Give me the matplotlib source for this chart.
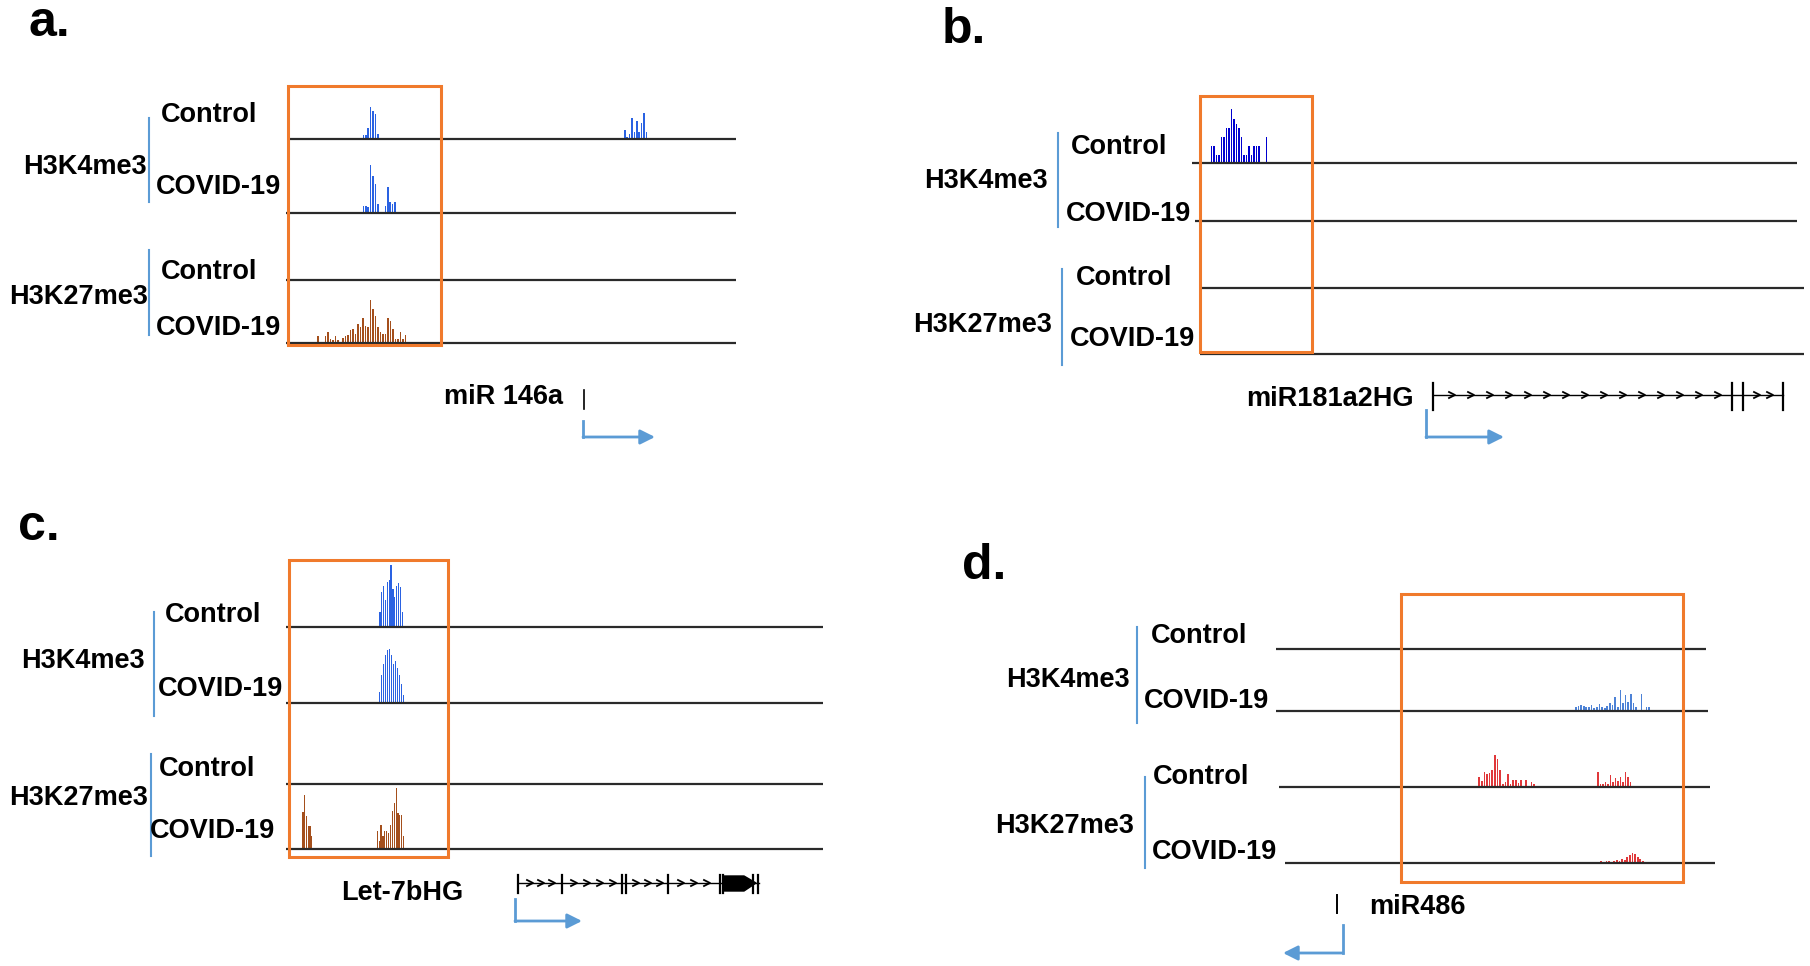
import numpy as np
import matplotlib
matplotlib.use("Agg")
import matplotlib.pyplot as plt
from matplotlib.patches import Rectangle, Polygon

# ---- peak heights (pixels above the track baseline)
a_ctrl_k4_p1 = [4, 4, 11, 32, 28, 25, 5]
a_ctrl_k4_p2 = [9, 2, 5, 21, 7, 18, 7, 16, 26, 7]
a_cov_k4_p1 = [7, 7, 6, 48, 37, 29, 9]
a_cov_k4_p2 = [7, 26, 11, 9, 11]
a_cov_k27 = [7, 1, 1, 7, 11, 4, 3, 7, 3, 1, 5, 7, 8, 13, 14, 9, 19, 16, 25, 17, 16,
             43, 34, 27, 16, 11, 9, 9, 25, 22, 14, 4, 4, 11, 4, 8]

b_ctrl_k4 = [17, 17, 8, 8, 26, 26, 35, 35, 54, 44, 39, 35, 26, 8, 8, 17, 8, 17, 17, 17, 0, 0, 26]

c_ctrl_k4 = [15, 35, 41, 27, 45, 47, 62, 38, 30, 41, 44, 40, 15]
c_cov_k4 = [11, 28, 39, 48, 53, 54, 48, 39, 42, 35, 28, 19, 8]
c_cov_k27_p1 = [37, 54, 33, 23, 23, 13]
c_cov_k27_p2 = [18, 8, 24, 13, 18, 18, 16, 24, 38, 46, 61, 36, 34, 34, 13]

d_cov_k4 = [4, 5, 6, 5, 4, 4, 6, 3, 4, 7, 4, 3, 5, 8, 6, 14, 4, 21, 8, 16, 9, 17, 8, 4, 1, 17, 1, 4, 4]
d_ctrl_k27_p1 = [10, 6, 15, 13, 14, 17, 32, 28, 17, 3, 5, 13, 3, 7, 7, 4, 7, 1, 7, 1, 5, 3]
d_ctrl_k27_p2 = [15, 3, 3, 5, 3, 12, 5, 9, 6, 10, 5, 15, 10, 5]
d_cov_k27 = [1, 1, 1, 1, 1, 1, 1, 1, 1, 2, 1, 2, 2, 1, 2, 3, 2, 4, 3, 6, 8, 10, 9, 6, 4, 2, 1, 1]

marks = ["H3K4me3", "H3K27me3"]
groups = ["Control", "COVID-19"]
panel_names = ["a.", "b.", "c.", "d."]
genes = ["miR 146a", "miR181a2HG", "Let-7bHG", "miR486"]

BLUE = "#2a62e2"
DBLUE = "#0000cf"
LBLUE = "#4d82d6"
BROWN = "#a44f1c"
RED = "#e0383a"
ORANGE = "#f07a2c"
BRACE = "#5b9bd5"
LINE = "#2a2a2a"
FONT = "Liberation Sans"
FS = 19.5

fig = plt.figure(figsize=(18.1, 9.66), dpi=100)
ax = fig.add_axes([0, 0, 1, 1])
ax.set_xlim(0, 1810)
ax.set_ylim(966, 0)
ax.axis("off")


def track(y, x0, x1):
    ax.plot([x0, x1], [y, y], color=LINE, lw=1.6, solid_capstyle="butt")


def peak(x0, base, heights, color, pitch=2.4, width=1.6):
    h = np.array(heights, dtype=float)
    xs = x0 + pitch * np.arange(len(h))
    ax.bar(xs, -h, bottom=base, width=width, color=color, align="edge", linewidth=0)


def label(x, y, s):
    ax.text(x, y, s, fontsize=FS, fontweight="bold", family=FONT, ha="left", va="center")


def mark_label(x_right, y, s):
    ax.text(x_right, y, s, fontsize=FS, fontweight="bold", family=FONT, ha="right", va="center")


def panel_letter(x, y, s):
    ax.text(x, y, s, fontsize=36, fontweight="bold", family=FONT, ha="left", va="baseline")


def brace(x, y0, y1):
    ax.plot([x, x], [y0, y1], color=BRACE, lw=1.5)


def box(x0, y0, x1, y1):
    ax.add_patch(Rectangle((x0, y0), x1 - x0, y1 - y0, fill=False, ec=ORANGE, lw=2.2, zorder=5))


def tss_arrow(x, y0, y1, x_end):
    ax.plot([x, x], [y0, y1], color=BRACE, lw=2)
    ax.annotate("", xy=(x_end, y1), xytext=(x, y1),
                arrowprops=dict(arrowstyle="-|>", color=BRACE, lw=2,
                                mutation_scale=22, shrinkA=0, shrinkB=0))


def chevrons(xs, y):
    for x in xs:
        ax.plot([x - 3, x + 3, x - 3], [y - 3, y, y + 3], color="black", lw=1.3)


def vtick(x, y0, y1, lw=1.6):
    ax.plot([x, x], [y0, y1], color="black", lw=lw)


# ================= panel a =================
panel_letter(28, 36, panel_names[0])
track(139, 290, 736)
track(213, 286, 736)
track(280, 286, 736)
track(343, 286, 736)
peak(362.5, 139, a_ctrl_k4_p1, BLUE)
peak(624, 139, a_ctrl_k4_p2, BLUE)
peak(362.5, 213, a_cov_k4_p1, BLUE)
peak(384.5, 213, a_cov_k4_p2, BLUE)
peak(317, 343, a_cov_k27, BROWN, pitch=2.5, width=1.9)
box(288, 86, 441, 345)
label(161, 115, groups[0])
label(156, 187, groups[1])
label(161, 272, groups[0])
label(156, 328, groups[1])
mark_label(147, 167, marks[0])
mark_label(148, 297, marks[1])
brace(149, 118, 202)
brace(149, 250, 335)
ax.text(444, 397, genes[0], fontsize=FS, fontweight="bold", family=FONT, va="center")
vtick(584, 390, 409, lw=1.2)
tss_arrow(583, 421, 437, 655)

# ================= panel b =================
panel_letter(942, 43, panel_names[1])
track(163, 1192, 1797)
track(221, 1195, 1797)
track(288, 1200, 1804)
track(354, 1200, 1804)
peak(1210.5, 163, b_ctrl_k4, DBLUE, pitch=2.5, width=1.9)
box(1200, 96, 1312, 352)
label(1071, 147, groups[0])
label(1066, 214, groups[1])
label(1076, 278, groups[0])
label(1070, 339, groups[1])
mark_label(1048, 181, marks[0])
mark_label(1052, 325, marks[1])
brace(1058, 133, 227)
brace(1062, 269, 365)
ax.text(1246, 399, genes[1], fontsize=FS, fontweight="bold", family=FONT, va="center")
ax.plot([1433, 1783], [395, 395], color="black", lw=1)
for x in (1433, 1732, 1743, 1783):
    vtick(x, 383, 410)
chevrons(np.arange(1452, 1725, 19), 395)
chevrons([1757, 1770], 395)
tss_arrow(1426, 410, 437, 1504)

# ================= panel c =================
panel_letter(18, 540, panel_names[2])
track(627, 286, 823)
track(703, 286, 823)
track(784, 286, 823)
track(849, 286, 823)
peak(379.3, 627, c_ctrl_k4, BLUE, pitch=1.86, width=1.2)
peak(379.3, 703, c_cov_k4, BLUE, pitch=2.0, width=1.1)
peak(302.3, 849, c_cov_k27_p1, BROWN, pitch=1.75, width=1.2)
peak(376.7, 849, c_cov_k27_p2, BROWN, pitch=1.88, width=1.2)
box(289, 560, 448, 857)
label(165, 615, groups[0])
label(158, 689, groups[1])
label(159, 769, groups[0])
label(150, 831, groups[1])
mark_label(145, 661, marks[0])
mark_label(148, 798, marks[1])
brace(154, 612, 716)
brace(151, 754, 856)
ax.text(341, 893, genes[2], fontsize=FS, fontweight="bold", family=FONT, va="center")
ax.plot([518, 759], [883, 883], color="black", lw=1)
for x in (518, 562, 622, 626, 668, 720, 723, 753, 758):
    vtick(x, 875, 893)
chevrons([530, 541, 552, 574, 587, 600, 613, 636, 648, 660, 681, 694, 707], 883)
ax.add_patch(Polygon([(724, 876), (744, 876), (756, 883), (744, 891), (724, 891)],
                     closed=True, color="black"))
tss_arrow(515, 899, 921, 582)

# ================= panel d =================
panel_letter(962, 579, panel_names[3])
track(649, 1276, 1706)
track(711, 1276, 1708)
track(787, 1279, 1710)
track(863, 1285, 1715)
peak(1575, 711, d_cov_k4, LBLUE, pitch=2.62, width=1.7)
peak(1478.3, 787, d_ctrl_k27_p1, RED, pitch=2.62, width=1.7)
peak(1597.3, 787, d_ctrl_k27_p2, RED, pitch=2.51, width=1.5)
peak(1577, 863, d_cov_k27, RED, pitch=2.6, width=1.8)
box(1401, 594, 1683, 882)
label(1151, 636, groups[0])
label(1144, 701, groups[1])
label(1153, 777, groups[0])
label(1152, 852, groups[1])
mark_label(1130, 680, marks[0])
mark_label(1134, 826, marks[1])
brace(1137, 627, 723)
brace(1145, 777, 868)
ax.text(1369, 907, genes[3], fontsize=FS, fontweight="bold", family=FONT, va="center")
vtick(1337, 895, 913, lw=1.4)
tss_arrow(1343, 925, 953, 1283)

fig.savefig("out.png", dpi=100)
